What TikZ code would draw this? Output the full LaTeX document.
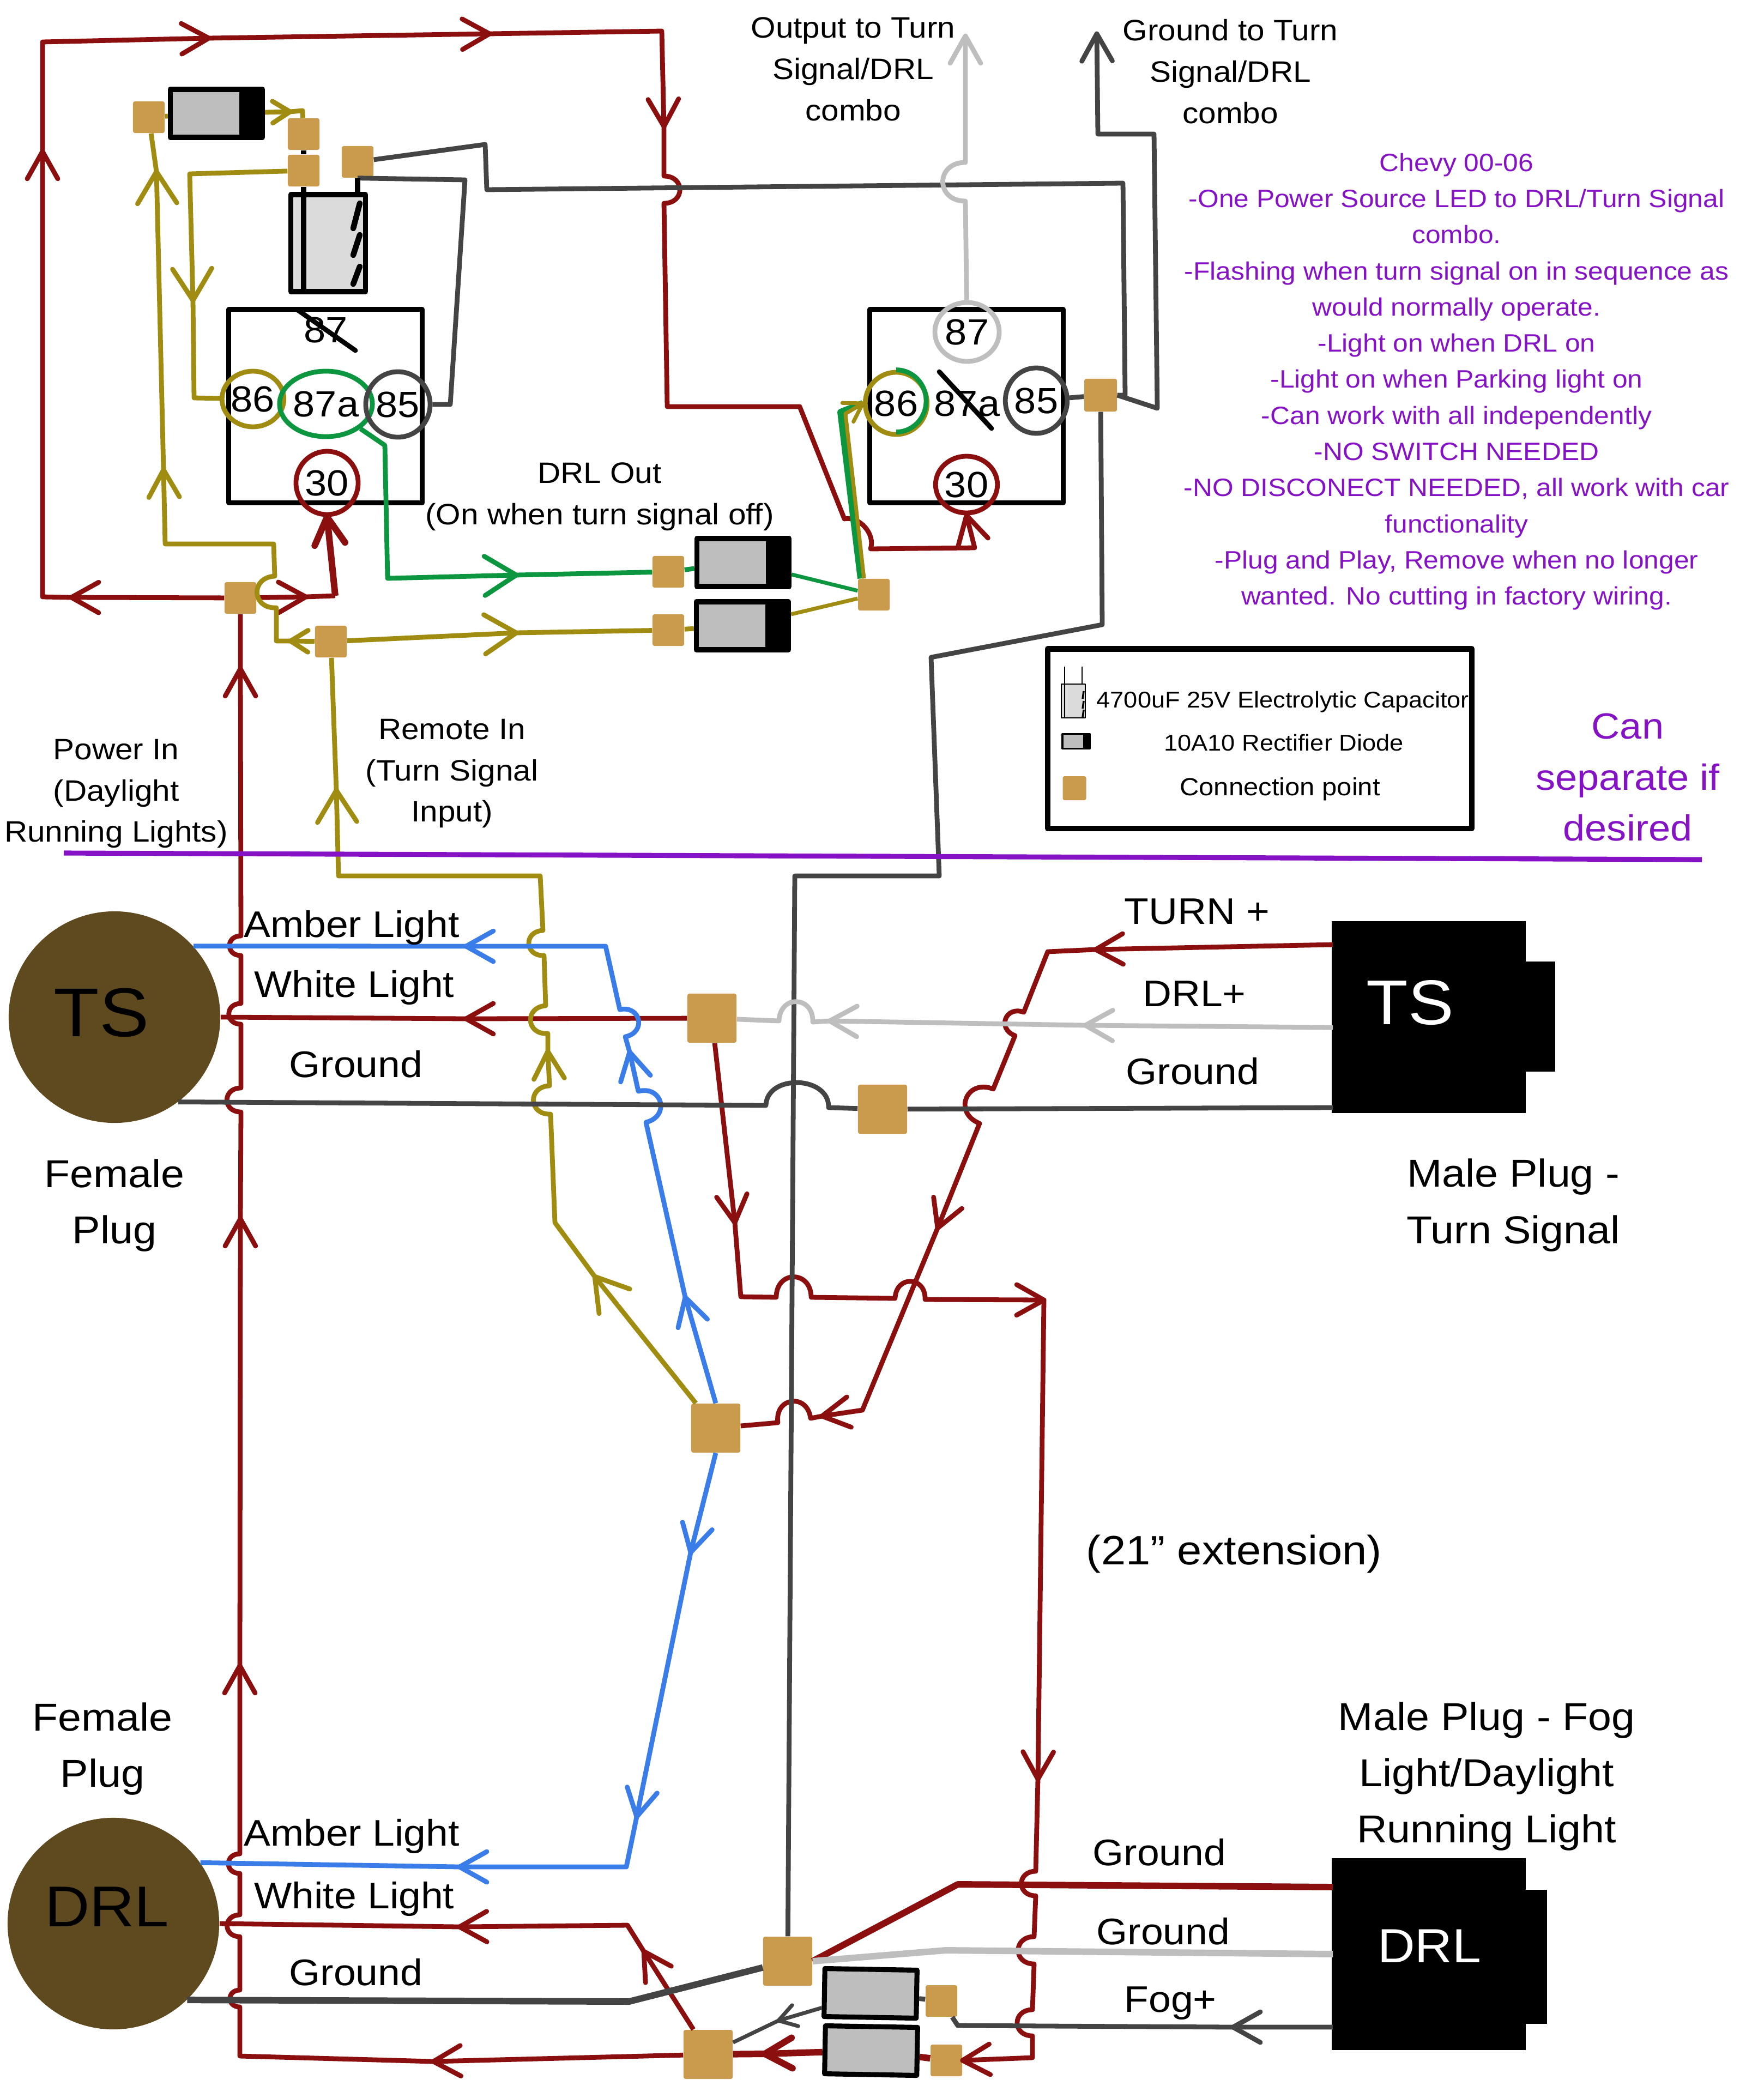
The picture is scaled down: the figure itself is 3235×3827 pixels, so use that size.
\documentclass[tikz,border=0pt]{standalone}
\usepackage{fontspec}
\setmainfont[FakeStretch=1.08]{Liberation Sans}
\usetikzlibrary{positioning, shapes.geometric}

\definecolor{wirered}{HTML}{8B0F0F}
\definecolor{wireolive}{HTML}{A08C10}
\definecolor{wireblue}{HTML}{3A7CE8}
\definecolor{wiregreen}{HTML}{0D9640}
\definecolor{wiredark}{HTML}{444444}
\definecolor{wirelight}{HTML}{BEBEBE}
\definecolor{conntan}{HTML}{CA9A4D}
\definecolor{plugbrown}{HTML}{5F4A1F}
\definecolor{notepurple}{HTML}{8512C4}

\begin{document}
\begin{tikzpicture}[x=0.01cm,y=-0.01cm,line join=round,
    wire/.style={line width=2.5pt},
    red wire/.style={wire,draw=wirered},
    olive wire/.style={wire,draw=wireolive},
    blue wire/.style={wire,draw=wireblue},
    green wire/.style={wire,draw=wiregreen},
    dark wire/.style={wire,draw=wiredark},
    light wire/.style={wire,draw=wirelight},
    fat/.style={line width=3.4pt},
    slim/.style={line width=2pt},
    hopL/.style={bend left=90,looseness=2},
    hopR/.style={bend right=90,looseness=2},
    tip/.style={pos=1,sloped,allow upside down},
    barb/.pic={\draw[line cap=round] (-50,-28) -- (0,0) -- (-50,28);},
    big barb/.pic={\draw[line cap=round] (-58,-36) -- (0,0) -- (-58,36);},
    small barb/.pic={\draw[line cap=round] (-32,-20) -- (0,0) -- (-32,20);},
    conn node/.style={fill=conntan,rounded corners=1pt,inner sep=0pt,minimum size=0.58cm},
    big conn node/.style={conn node,minimum size=0.9cm},
    diode node/.style={draw=black,line width=2.6pt,fill=wirelight,inner sep=0pt,
      minimum width=1.69cm,minimum height=0.88cm,
      path picture={\fill[black] ([xshift=-#1]path picture bounding box.north east)
        rectangle (path picture bounding box.south east);}},
    diode node/.default=0.43cm,
    cap node/.style={draw=black,line width=2.6pt,fill=black!14,inner sep=0pt,
      minimum width=1.37cm,minimum height=1.78cm},
    relay node/.style={draw=black,line width=2.6pt,inner sep=0pt,
      minimum width=3.55cm,minimum height=3.54cm},
    pin node/.style={ellipse,line width=2.5pt,inner sep=0pt,font=\fontsize{19}{22}\selectfont},
    fplug node/.style={circle,fill=plugbrown,inner sep=0pt,minimum size=3.88cm},
    mplug node/.style={fill=black,inner sep=0pt,minimum width=3.55cm,minimum height=3.52cm},
    note node/.style={align=center,inner sep=0pt,font=\fontsize{15.4}{21.6}\selectfont},
    wire text/.style={inner sep=0pt,font=\fontsize{19.3}{24}\selectfont},
    plug text/.style={align=center,inner sep=0pt,font=\fontsize{20.3}{29.3}\selectfont},
    legend text/.style={inner sep=0pt,font=\fontsize{11.9}{14}\selectfont},
    list node/.style={align=center,inner sep=0pt,text=notepurple,font=\fontsize{13.1}{18.85}\selectfont}]

  \useasboundingbox (0,0) rectangle (3235,3827);

  \node[conn node] (c1) at (441,1097) {};
  \node[conn node] (c2) at (273,215) {};
  \node[conn node] (c3) at (557,246) {};
  \node[conn node] (c4) at (557,313) {};
  \node[conn node] (c5) at (656,297) {};
  \node[conn node] (c6) at (607,1177) {};
  \node[conn node] (c7) at (1603,1091) {};
  \node[conn node] (c8) at (1226,1049) {};
  \node[conn node] (c9) at (1226,1156) {};
  \node[big conn node] (c10) at (1306,1868) {};
  \node[big conn node] (c11) at (1619,2035) {};
  \node[big conn node] (c12) at (1313,2620) {};
  \node[conn node,minimum size=0.6cm] (c13) at (2019,725) {};
  \node[big conn node] (c14) at (1445,3598) {};
  \node[big conn node] (c15) at (1299,3769) {};
  \node[conn node] (c16) at (1727,3671) {};
  \node[conn node] (c17) at (1736,3780) {};

  \node[diode node] (d1) at (397,208) {};
  \node[diode node] (d3) at (1363,1032) {};
  \node[diode node] (d4) at (1362,1148) {};
  \node[diode node,rotate=179] (d5) at (1597,3657) {};
  \node[diode node,rotate=179] (d6) at (1598,3762) {};

  \node[cap node] (cap) at (602,446) {};
  \foreach \y/\h in {419/46,468/37,521/32}
    \draw[black,line width=3pt,line cap=round] (648,\y) -- ++(12,-\h);

  \node[relay node] (r1) at (597,745) {};
  \node[relay node] (r2) at (1773,745) {};

  \node[inner sep=0pt,font=\fontsize{19}{22}\selectfont] (r1p87) at (598,605) {87};
  \node[pin node,draw=wireolive,minimum width=1.12cm,minimum height=1.02cm] (r1p86) at (464,732) {86};
  \node[pin node,draw=wiregreen,minimum width=1.5cm,minimum height=1.2cm] (r1p87a) at (598,741) {87a};
  \node[pin node,draw=wiredark,minimum width=1.18cm,minimum height=1.2cm] (r1p85) at (730,742) {85};
  \node[pin node,draw=wirered,minimum width=1.14cm,minimum height=1.16cm] (r1p30) at (600,886) {30};
  \node[pin node,draw=wirelight,minimum width=1.18cm,minimum height=1.08cm] (r2p87) at (1774,609) {87};
  \node[pin node,draw=wireolive,minimum width=1.1cm,minimum height=1.14cm] (r2p86) at (1644,740) {86};
  \node[inner sep=0pt,font=\fontsize{19}{22}\selectfont] (r2p87a) at (1774,740) {87a};
  \node[pin node,draw=wiredark,minimum width=1.02cm,minimum height=1.2cm] (r2p85) at (1901,735) {85};
  \node[pin node,draw=wirered,minimum width=1.08cm,minimum height=1.04cm] (r2p30) at (1773,889) {30};
  \draw[green wire] (r2p86.north) arc[start angle=-90,end angle=90,x radius=55,y radius=57];
  \draw[black,line width=2.5pt,line cap=round] (545,568) -- (652,643);
  \draw[black,line width=2.5pt,line cap=round] (1723,682) -- (1819,786);

  \node[fplug node] (tsF) at (210,1866) {};
  \node[fplug node] (drlF) at (208,3529) {};
  \node[fill=black,inner sep=0pt,minimum width=0.6cm,minimum height=2.01cm] (tsTab) at (2823,1865) {};
  \node[fill=black,inner sep=0pt,minimum width=0.45cm,minimum height=2.45cm] (drlTab) at (2815,3590) {};
  \node[mplug node] (tsM) at (2621,1866) {};
  \node[mplug node] (drlM) at (2621,3585) {};
  \node[font=\fontsize{36}{40}\selectfont] (tsFt) at (186,1858) {TS};
  \node[font=\fontsize{30}{32}\selectfont] (drlFt) at (196,3498) {DRL};
  \node[text=white,font=\fontsize{33}{36}\selectfont] (tsMt) at (2587,1840) {TS};
  \node[text=white,font=\fontsize{25}{28}\selectfont] (drlMt) at (2622,3570) {DRL};
  \coordinate (tsMa) at (2445,1733);
  \coordinate (tsMb) at (2445,1885);
  \coordinate (tsMc) at (2445,2032);
  \coordinate (drlMa) at (2445,3462);
  \coordinate (drlMb) at (2445,3585);
  \coordinate (drlMc) at (2445,3719);

  % power loop round the top
  \draw[red wire] (c1) -- (131,1096) pic[tip]{barb} -- (78,1095) -- (78,278) pic[tip]{barb}
    -- (78,77) -- (383,70) pic[tip]{barb} -- (898,62) pic[tip]{barb} -- (1214,57)
    -- (1218,232) pic[tip]{barb} -- (1218,323) to[hopL] (1218,373) -- (1224,746) -- (1467,746)
    -- (1549,952) to[bend left=60] (1597,1007) -- (1788,1005) -- (r2p30.south) pic[tip]{barb};
  \draw[red wire] (c1) -- (561,1095) pic[tip]{barb} -- (615,1093);
  \draw[red wire,fat] (615,1093) -- (r1p30.south) pic[tip]{barb};
  \draw[red wire] (c15) -- (795,3782) pic[tip]{barb} -- (440,3772) -- (440,3682) to[hopL] (440,3651)
    -- (440,3553) to[hopL] (440,3513) -- (440,3437) to[hopL] (440,3401) -- (440,3056) pic[tip]{barb}
    -- (441,2236) pic[tip]{barb} -- (442,2040) to[hopL] (442,1996) -- (442,1879) to[hopL] (442,1841)
    -- (442,1753) to[hopL] (442,1717) -- (441,1227) pic[tip]{barb} -- (c1);
  \draw[red wire] (c10) -- (855,1869) pic[tip]{barb} -- (tsF.east);
  \draw[red wire] (c10) -- (1348,2243) pic[tip]{barb} -- (1359,2379) -- (1424,2380) to[hopL] (1488,2380)
    -- (1642,2382) to[hopL] (1697,2384) -- (1915,2385) pic[tip]{barb} -- (1904,3264) pic[tip]{barb}
    -- (1900,3433) to[hopR] (1900,3478) -- (1897,3553) to[hopR] (1897,3603) -- (1894,3687) to[hopR] (1894,3735)
    -- (1894,3775) -- (c17.east) pic[tip]{barb};
  \draw[red wire] (tsMa) -- (2010,1742) pic[tip]{barb} -- (1922,1746) -- (1878,1857) to[hopR] (1862,1900)
    -- (1822,1998) to[hopR] (1797,2061) -- (1720,2253) pic[tip]{barb} -- (1582,2587)
    -- (1508,2598) pic[tip]{barb} -- (1487,2602) to[hopR] (1427,2610) -- (c12);
  \draw[red wire] ([xshift=-0.27cm]c15.north) -- (1181,3580) pic[tip]{barb} -- (1151,3532)
    -- (843,3535) pic[tip]{barb} -- (drlF.east);
  \draw[red wire,fat] (drlMa) -- (1757,3457) -- (c14.east);
  \draw[red wire,fat] (c17) -- (d6);
  \draw[red wire,fat] (d6) -- (1403,3768) pic[tip]{barb} -- (c15);

  \draw[olive wire] (c2) -- (d1);
  \draw[olive wire] (d1) -- (532,205) pic[tip]{small barb} -- (555,203) -- (c3);
  \draw[olive wire] (c4) -- (348,319) -- (354,551) pic[tip]{big barb} -- (356,730) -- (r1p86);
  \draw[olive wire] (c6) -- (533,1176) pic[tip]{small barb} -- (507,1176) -- (507,1115) to[hopL] (504,1057)
    -- (502,998) -- (303,998) -- (300,862) pic[tip]{barb} -- (287,315) pic[tip]{big barb} -- (c2);
  \draw[olive wire] (c6) -- (947,1161) pic[tip]{big barb} -- (c9);
  \draw[olive wire] (c9) -- (d4);
  \draw[olive wire,slim] (d4) -- (c7);
  \draw[olive wire] (c12) -- (1091,2342) pic[tip]{big barb} -- (1018,2243) -- (1010,2044) to[hopL] (1008,1992)
    -- (1005,1929) pic[tip]{barb} -- (1005,1896) to[hopL] (1001,1845) -- (998,1753) to[hopL] (996,1707)
    -- (991,1607) -- (621,1607) -- (617,1450) pic[tip]{big barb} -- (c6);

  \draw[blue wire] (c12.north) -- (1257,2380) pic[tip]{barb} -- (1185,2059) to[hopR] (1171,2002)
    -- (1155,1930) pic[tip]{barb} -- (1147,1902) to[hopR] (1137,1852) -- (1111,1736)
    -- (855,1736) pic[tip]{barb} -- (tsF.42);
  \draw[blue wire] (c12.south) -- (1267,2848) pic[tip]{barb} -- (1168,3333) pic[tip]{barb}
    -- (1149,3425) -- (843,3425) pic[tip]{barb} -- (drlF.35);

  \draw[green wire] (r1p87a.south east) -- (706,817) -- (711,1061) -- (947,1055) pic[tip]{big barb} -- (c8);
  \draw[green wire] (c8) -- (d3);
  \draw[green wire,slim] (d3) -- (c7);
  \draw[green wire,fat] ([xshift=-0.24cm]c7.north) -- (1542,756) -- (r2p86.west);
  \draw[olive wire,slim] ([xshift=-0.18cm]c7.north) -- (1551,759) -- (r2p86.west) pic[tip]{small barb};

  \draw[dark wire] (tsMc) -- (c11);
  \draw[dark wire] (c11) -- (1520,2032) to[hopR,looseness=1.3] (1405,2028) -- (tsF.-53);
  \draw[dark wire] (c13) -- (2022,1146) -- (1708,1206) -- (1723,1607) -- (1458,1607) -- (c14);
  \draw[dark wire] (c13) -- (r2p85);
  \draw[dark wire] (c13.east) -- (2123,749) -- (2117,246) -- (2014,246) -- (2012,62) pic[tip]{barb};
  \draw[dark wire] (c13.east) -- (2064,725) -- (2060,336) -- (893,348) -- (890,265) -- (c5);
  \draw[dark wire] (c5.south) -- (853,330) -- (826,742) -- (r1p85);
  \draw[dark wire,fat] (c14) -- (1154,3672) -- (drlF.-46);
  \draw[dark wire] (drlMc) -- (2262,3719) pic[tip]{barb} -- (1757,3716) -- (c16);
  \draw[dark wire] (c16) -- (d5);
  \draw[dark wire,slim] (d5) -- (1428,3707) pic[tip]{small barb} -- (c15);

  \draw[light wire] (r2p87) -- (1771,369) to[hopL] (1771,298) -- (1771,66) pic[tip]{barb};
  \draw[light wire] (tsMb) -- (1991,1881) pic[tip]{barb} -- (1522,1873) pic[tip]{barb} -- (1491,1875)
    to[hopR] (1429,1873) -- (c10);
  \draw[light wire,fat] (drlMb) -- (1735,3578) -- (c14.east);

  \draw[black,line width=2.6pt] (c3) -- (c4);
  \draw[black,line width=2.6pt] (c4.south) -- (c4.south |- cap.south);
  \draw[black,line width=2.6pt] (c5.south) -- (c5.south |- cap.north);

  % purple divider
  \coordinate (divA) at (117,1565);
  \coordinate (divB) at (3122,1577);
  \draw[notepurple,line width=2.6pt] (divA) -- (divB);

  % legend
  \node[draw=black,line width=2.9pt,inner sep=0pt,minimum width=7.78cm,minimum height=3.29cm] (legend) at (2311,1355) {};
  \node[draw=black,line width=0.8pt,fill=black!14,inner sep=0pt,minimum width=0.44cm,minimum height=0.62cm] (legCap) at (1969,1286) {};
  \draw[black,line width=0.6pt] ([xshift=-0.16cm]legCap.north) -- ++(0,-31);
  \draw[black,line width=0.6pt] ([xshift=0.16cm]legCap.north) -- ++(0,-31);
  \draw[black,line width=0.6pt] ([xshift=-0.16cm]legCap.north) -- ([xshift=-0.16cm]legCap.south);
  \foreach \y in {1282,1300,1316}
    \draw[black,line width=1pt] (1986,\y) -- ++(2,-14);
  \node[diode node=0.12cm,line width=1pt,minimum width=0.5cm,minimum height=0.27cm] (legDiode) at (1974,1360) {};
  \node[conn node,minimum width=0.43cm,minimum height=0.44cm] (c18) at (1971,1446) {};
  \node[legend text,anchor=west] (legA) at (2011,1288) {4700uF 25V Electrolytic Capacitor};
  \node[legend text] (legB) at (2355,1363) {10A10 Rectifier Diode};
  \node[legend text,font=\fontsize{12.9}{15}\selectfont] (legC) at (2348,1448) {Connection point};

  \node[note node] (outLbl) at (1565,127) {Output to Turn\\Signal/DRL\\combo};
  \node[note node] (gndLbl) at (2257,131) {Ground to Turn\\Signal/DRL\\combo};
  \node[note node] (drlLbl) at (1100,911) {DRL Out\\(On when turn signal off)};
  \node[note node] (remLbl) at (829,1419) {Remote In\\(Turn Signal\\Input)};
  \node[note node] (powLbl) at (213,1456) {Power In\\(Daylight\\Running Lights)};
  \node[list node] (notes) at (2672,700) {Chevy 00-06\\-One Power Source LED to DRL/Turn Signal\\combo.\\
    -Flashing when turn signal on in sequence as\\would normally operate.\\-Light on when DRL on\\
    -Light on when Parking light on\\-Can work with all independently\\-NO SWITCH NEEDED\\
    -NO DISCONECT NEEDED, all work with car\\functionality\\-Plug and Play, Remove when no longer\\
    wanted. No cutting in factory wiring.};
  \node[plug text,text=notepurple,font=\fontsize{19}{26.5}\selectfont] (sepLbl) at (2986,1426) {Can\\separate if\\desired};

  \node[wire text] (amberA) at (645,1702) {Amber Light};
  \node[wire text] (whiteA) at (650,1812) {White Light};
  \node[wire text] (groundA) at (653,1952) {Ground};
  \node[wire text] (amberB) at (645,3369) {Amber Light};
  \node[wire text] (whiteB) at (650,3484) {White Light};
  \node[wire text] (groundB) at (653,3618) {Ground};
  \node[wire text] (turnLbl) at (2196,1672) {TURN +};
  \node[wire text] (plusLbl) at (2191,1823) {DRL+};
  \node[wire text] (groundC) at (2188,1965) {Ground};
  \node[wire text] (groundD) at (2127,3398) {Ground};
  \node[wire text] (groundE) at (2134,3543) {Ground};
  \node[wire text] (fogLbl) at (2147,3675) {Fog+};

  \node[plug text,below=0.65cm of tsF] (femA) {Female\\Plug};
  \node[plug text,above=0.4cm of drlF,xshift=-0.2cm] (femB) {Female\\Plug};
  \node[plug text] (maleA) at (2776,2211) {Male Plug -\\Turn Signal};
  \node[plug text] (maleB) at (2727,3259) {Male Plug - Fog\\Light/Daylight\\Running Light};
  \node[plug text,font=\fontsize{21.4}{26}\selectfont] (extLbl) at (2264,2851) {(21” extension)};
\end{tikzpicture}
\end{document}
